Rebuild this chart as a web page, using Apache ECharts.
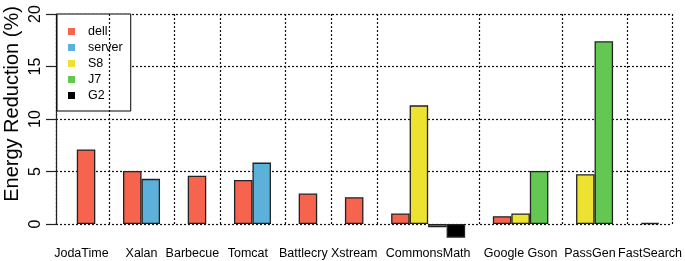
<!DOCTYPE html>
<html>
<head>
<meta charset="utf-8">
<script src="https://cdn.jsdelivr.net/npm/echarts@6/dist/echarts.min.js"></script>
<style>
  html, body { margin: 0; padding: 0; background: #fff; }
  #chart { width: 685px; height: 261px; }
</style>
</head>
<body>
<div id="chart"></div>
<script>
// 各项目的节能比例(%),没有测的用 null
const categories = ['JodaTime', 'Xalan', 'Barbecue', 'Tomcat', 'Battlecry', 'Xstream', 'CommonsMath', 'Google Gson', 'PassGen', 'FastSearch'];
const seriesNames = ['dell', 'server', 'S8', 'J7', 'G2'];
const dell   = [7.1, 5.05, 4.6, 4.2, 2.9, 2.55, 1.0, 0.75, null, null];
const server = [null, 4.3, null, 5.85, null, null, null, null, null, null];
const s8     = [null, null, null, null, null, null, 11.3, 1.0, 4.75, null];
const j7     = [null, null, null, null, null, null, -0.3, 5.05, 17.4, null];
const g2     = [null, null, null, null, null, null, -1.3, null, null, 0.1];
const yTicks = [0, 5, 10, 15, 20];

const values = [dell, server, s8, j7, g2];
const colors = ['#f6644d', '#5bb1da', '#ede22f', '#62c851', '#000000'];

// 布局: 一个槽 = 四分之一柱宽; 标签相对组中心的偏移(槽)
const FIRST = 6, STEP = 4, GROUP_GAP = 10, TAIL = 5;
const labelShift = [-1, 0, -1, -1, -1, 0, 0, 0, -1, 0];
const gridLeft = 56, gridRight = 13, gridTop = 14;
const chartW = 685;

const slotData = values.map(() => []);
const labelMap = {};
const separators = [];
let pos = FIRST;
categories.forEach((name, gi) => {
  const first = pos;
  values.forEach((arr, si) => {
    if (arr[gi] !== null) {
      slotData[si].push([pos, arr[gi]]);
      pos += STEP;
    }
  });
  const last = pos - STEP;
  labelMap['s' + ((first + last) / 2 + labelShift[gi])] = name;
  if (gi < categories.length - 1) separators.push(last + TAIL);
  pos = last + GROUP_GAP;
});
const nSlots = pos - GROUP_GAP + TAIL;
const slots = [];
for (let i = 0; i < nSlots; i++) slots.push('s' + i);

const slotPx = (chartW - gridLeft - gridRight) / nSlots;
const font = 'Liberation Sans, Arial, Helvetica, sans-serif';
const dotted = { color: '#111', width: 1.2, type: [2, 2] };

const chart = echarts.init(document.getElementById('chart'));

const series = seriesNames.map((name, si) => {
  const data = slots.map(() => null);
  slotData[si].forEach(d => { data[d[0]] = d[1]; });
  const s = {
    name: name,
    type: 'bar',
    stack: 'all',
    xAxisIndex: 0,
    yAxisIndex: 0,
    barWidth: slotPx * STEP,
    data: data,
    itemStyle: { color: colors[si], borderColor: '#222', borderWidth: 1.3 },
    emphasis: { disabled: true }
  };
  if (si === 0) {
    s.markLine = {
      silent: true,
      symbol: 'none',
      label: { show: false },
      lineStyle: dotted,
      data: separators.map(k => [{ coord: ['s' + k, yTicks[0]] }, { coord: ['s' + k, yTicks[yTicks.length - 1]] }])
    };
  }
  return s;
});

const option = {
  animation: false,
  textStyle: { fontFamily: font },
  grid: [
    { left: gridLeft, right: gridRight, top: gridTop, height: 21.5 * 10.5 },
    { left: gridLeft, right: gridRight, top: gridTop, height: 210 }
  ],
  legend: {
    orient: 'vertical',
    left: 57,
    top: 14,
    data: seriesNames,
    icon: 'rect',
    itemWidth: 7,
    itemHeight: 7,
    itemGap: 3,
    padding: [11, 8, 9, 11],
    borderColor: '#000',
    borderWidth: 1,
    backgroundColor: '#fff',
    itemStyle: { borderWidth: 0 },
    textStyle: { fontFamily: font, fontSize: 12.5, color: '#000', lineHeight: 12, padding: [0, 0, 0, 8] }
  },
  xAxis: [
    {
      type: 'category',
      gridIndex: 0,
      data: slots,
      axisLine: { show: false },
      axisTick: { show: false },
      splitLine: { show: false },
      axisLabel: {
        interval: 0,
        margin: 7,
        fontSize: 12.5,
        color: '#000',
        fontFamily: font,
        formatter: v => labelMap[v] || ''
      }
    },
    {
      type: 'value',
      gridIndex: 1,
      min: 0,
      max: 1,
      interval: 1,
      axisLine: { show: false },
      axisTick: { show: false },
      axisLabel: { show: false },
      splitLine: { show: true, lineStyle: dotted }
    }
  ],
  yAxis: [
    {
      type: 'value',
      gridIndex: 0,
      min: -1.5,
      max: 20,
      show: false
    },
    {
      type: 'value',
      gridIndex: 1,
      min: yTicks[0],
      max: yTicks[yTicks.length - 1],
      interval: 5,
      axisLine: { show: true, lineStyle: { color: '#222', width: 1.2 } },
      axisTick: { show: true, length: 10, lineStyle: { color: '#222', width: 1.2 } },
      axisLabel: { rotate: 90, margin: 12, fontSize: 16, color: '#000', fontFamily: font },
      splitLine: { show: true, lineStyle: dotted }
    }
  ],
  graphic: [{
    type: 'text',
    x: 12,
    y: 104,
    rotation: Math.PI / 2,
    style: {
      text: 'Energy Reduction (%)',
      fontSize: 20,
      fontFamily: font,
      fill: '#000',
      align: 'center',
      verticalAlign: 'middle'
    }
  }],
  series: series
};

chart.setOption(option);
window.addEventListener('resize', function () {
  chart.resize();
});
</script>
</body>
</html>
